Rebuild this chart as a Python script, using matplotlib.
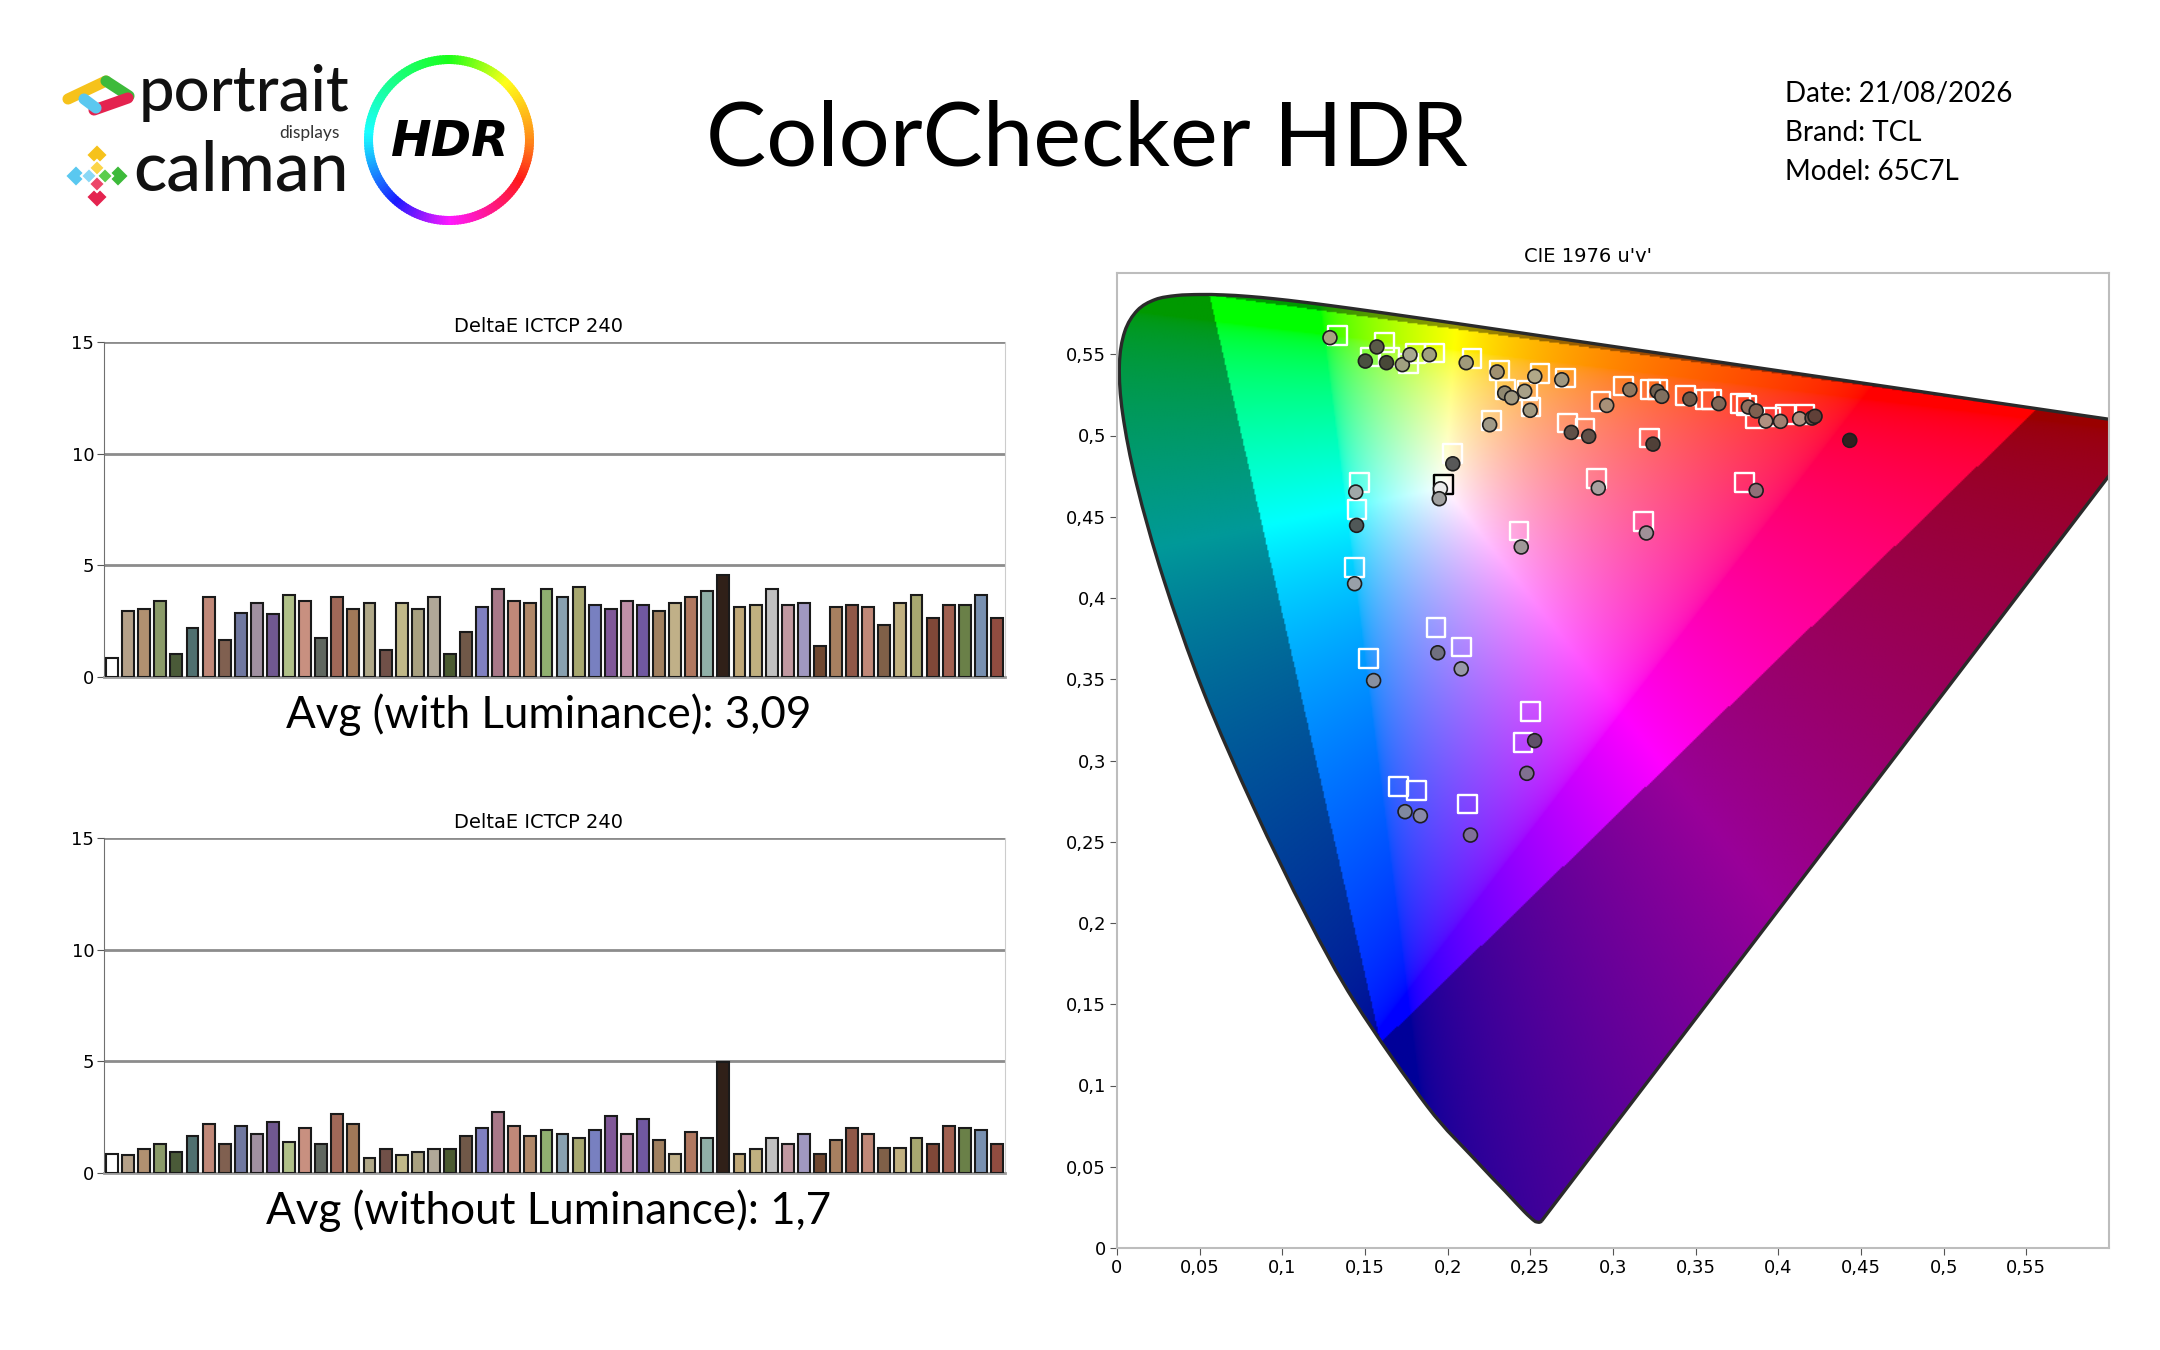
import numpy as np
import matplotlib
matplotlib.use("Agg")
import matplotlib.pyplot as plt
from matplotlib.path import Path
from matplotlib.patches import PathPatch, Wedge, RegularPolygon
import colorsys

# ColorChecker patch colours (same order in both bar charts)
patch_colors = [
    "#ffffff", "#b4a088", "#b09070", "#8a9a68", "#4a5a38", "#507070", "#c08878",
    "#806050", "#7078a0", "#a090a0", "#705890", "#b0c088", "#c89080", "#606860",
    "#a06858", "#a07858", "#b0a888", "#705048", "#c0b888", "#a8a080", "#b0a898",
    "#4a5a30", "#705848", "#8080c0", "#a87888", "#c08878", "#b08868", "#90b070",
    "#88a0b0", "#a8a870", "#7880c0", "#805898", "#c090a8", "#7058a0", "#a08060",
    "#c0b088", "#b07860", "#90b0a8", "#302018", "#c0a878", "#c0b080", "#c0c0c0",
    "#c098a0", "#a098c0", "#704830", "#a88060", "#905848", "#c08878", "#806048",
    "#c0b080", "#a8a870", "#804838", "#a06050", "#6a8048", "#7890b0", "#904c40",
]

de_with_lum = [
    0.86, 2.95, 3.06, 3.41, 1.05, 2.20, 3.59, 1.64, 2.88, 3.32, 2.80, 3.67, 3.41, 1.74,
    3.59, 3.06, 3.32, 1.21, 3.32, 3.06, 3.59, 1.05, 2.00, 3.15, 3.94, 3.41, 3.32, 3.94,
    3.59, 4.05, 3.23, 3.06, 3.41, 3.23, 2.95, 3.32, 3.59, 3.85, 4.55, 3.15, 3.23, 3.94,
    3.23, 3.32, 1.39, 3.15, 3.23, 3.15, 2.35, 3.32, 3.67, 2.62, 3.23, 3.23, 3.67, 2.62,
]

de_without_lum = [
    0.86, 0.79, 1.06, 1.29, 0.95, 1.67, 2.18, 1.29, 2.09, 1.74, 2.27, 1.39, 2.02, 1.29,
    2.62, 2.18, 0.68, 1.06, 0.79, 0.95, 1.06, 1.06, 1.67, 2.02, 2.71, 2.09, 1.67, 1.92,
    1.74, 1.58, 1.92, 2.53, 1.74, 2.44, 1.48, 0.86, 1.83, 1.58, 4.95, 0.86, 1.06, 1.58,
    1.29, 1.74, 0.86, 1.48, 2.02, 1.74, 1.14, 1.14, 1.58, 1.29, 2.09, 2.02, 1.92, 1.29,
]

avg_with = "3,09"
avg_without = "1,7"

# target chromaticities (u', v')
target_u = [
    0.1334, 0.1619, 0.1530, 0.1647, 0.1763, 0.1805, 0.1921, 0.2147, 0.2313, 0.2559,
    0.2713, 0.2352, 0.2485, 0.2504, 0.2266, 0.2928, 0.3063, 0.3226, 0.3268, 0.3440,
    0.3559, 0.3598, 0.3773, 0.3808, 0.3859, 0.3952, 0.4045, 0.4162, 0.2725, 0.2830,
    0.3219, 0.2031, 0.1973, 0.1467, 0.2900, 0.3796, 0.1451, 0.1435, 0.1930, 0.2082,
    0.1520, 0.2502, 0.2455, 0.1704, 0.1813, 0.2118, 0.2431, 0.3183,
]
target_v = [
    0.5616, 0.5571, 0.5483, 0.5483, 0.5442, 0.5504, 0.5508, 0.5473, 0.5401, 0.5380,
    0.5354, 0.5282, 0.5278, 0.5175, 0.5093, 0.5210, 0.5304, 0.5282, 0.5282, 0.5245,
    0.5220, 0.5220, 0.5196, 0.5185, 0.5103, 0.5114, 0.5130, 0.5130, 0.5077, 0.5042,
    0.4984, 0.4888, 0.4699, 0.4709, 0.4734, 0.4709, 0.4544, 0.4187, 0.3817, 0.3698,
    0.3626, 0.3303, 0.3112, 0.2839, 0.2814, 0.2732, 0.4412, 0.4472,
]
white_target = 32

# measured chromaticities (u', v')
meas_u = [
    0.1288, 0.1572, 0.1502, 0.1630, 0.1726, 0.1772, 0.1889, 0.2112, 0.2299, 0.2527,
    0.2690, 0.2345, 0.2387, 0.2466, 0.2499, 0.2254, 0.2962, 0.3102, 0.3268, 0.3295,
    0.3465, 0.3640, 0.3819, 0.3866, 0.3924, 0.4013, 0.4129, 0.4204, 0.4222, 0.2748,
    0.2853, 0.3242, 0.4432, 0.2031, 0.1956, 0.1949, 0.1444, 0.2911, 0.3866, 0.1449,
    0.1437, 0.1940, 0.2082, 0.1552, 0.2526, 0.2479, 0.1742, 0.1835, 0.2138, 0.2445,
    0.3202,
]
meas_v = [
    0.5602, 0.5545, 0.5458, 0.5448, 0.5436, 0.5497, 0.5497, 0.5448, 0.5391, 0.5364,
    0.5343, 0.5261, 0.5233, 0.5272, 0.5155, 0.5066, 0.5185, 0.5282, 0.5272, 0.5241,
    0.5224, 0.5196, 0.5175, 0.5151, 0.5089, 0.5087, 0.5103, 0.5107, 0.5118, 0.5019,
    0.4995, 0.4947, 0.4970, 0.4826, 0.4672, 0.4611, 0.4652, 0.4677, 0.4662, 0.4447,
    0.4088, 0.3663, 0.3564, 0.3492, 0.3122, 0.2921, 0.2685, 0.2660, 0.2541, 0.4314,
    0.4400,
]
meas_colors = [
    "#a8a282", "#5a5a48", "#4a5040", "#484838", "#a0a080", "#a8a890", "#a0a080",
    "#a09a7a", "#a09070", "#b0a888", "#a09880", "#908870", "#a09880", "#a8a088",
    "#a09880", "#a09a88", "#a89078", "#907860", "#706050", "#807060", "#705848",
    "#806858", "#907060", "#806050", "#b09080", "#a08070", "#b09080", "#705048",
    "#604038", "#605048", "#605048", "#504038", "#302020", "#585858", "#ececec",
    "#a0a0a0", "#a0a8a8", "#a8a0a0", "#907078", "#505858", "#98a0a8", "#707080",
    "#9898a8", "#8890a0", "#605068", "#807090", "#8088a0", "#8888a8", "#807098",
    "#a09898", "#a09098",
]

# CIE 1931 spectral locus (x, y), 380-700 nm
locus_x = [0.1741, 0.1738, 0.1733, 0.1726, 0.1714, 0.1689, 0.1644, 0.1566, 0.1440,
           0.1241, 0.1096, 0.0913, 0.0687, 0.0454, 0.0235, 0.0082, 0.0039, 0.0139,
           0.0389, 0.0743, 0.1142, 0.1547, 0.1929, 0.2296, 0.2658, 0.3016, 0.3373,
           0.3731, 0.4087, 0.4441, 0.4788, 0.5125, 0.5448, 0.5752, 0.6029, 0.6270,
           0.6658, 0.6915, 0.7079, 0.7190, 0.7260, 0.7300, 0.7347]
locus_y = [0.0050, 0.0049, 0.0048, 0.0048, 0.0051, 0.0069, 0.0109, 0.0177, 0.0297,
           0.0578, 0.0868, 0.1327, 0.2007, 0.2950, 0.4127, 0.5384, 0.6548, 0.7502,
           0.8120, 0.8338, 0.8262, 0.8059, 0.7816, 0.7543, 0.7243, 0.6923, 0.6589,
           0.6245, 0.5896, 0.5547, 0.5202, 0.4866, 0.4544, 0.4242, 0.3965, 0.3725,
           0.3340, 0.3083, 0.2920, 0.2809, 0.2740, 0.2700, 0.2653]

# Rec.2020 primaries in u'v'
gamut_u = [0.5566, 0.0556, 0.1593]
gamut_v = [0.5165, 0.5868, 0.1260]

cie_ticks = [0, 0.05, 0.1, 0.15, 0.2, 0.25, 0.3, 0.35, 0.4, 0.45, 0.5, 0.55]

W, H = 2160, 1350
fig = plt.figure(figsize=(W / 100, H / 100), dpi=100)

narrow = ["Liberation Sans Narrow", "DejaVu Sans"]
calib = ["Lato", "DejaVu Sans"]


def fig_rect(left, top, right, bottom):
    return [left / W, 1 - bottom / H, (right - left) / W, (bottom - top) / H]


# ---- header overlay -------------------------------------------------------
hdr = fig.add_axes([0, 0, 1, 1])
hdr.set_xlim(0, W)
hdr.set_ylim(H, 0)
hdr.axis("off")

# portrait icon
hdr.plot([68, 106], [99, 81], color="#f6c21b", lw=8, solid_capstyle="round")
hdr.plot([106, 129], [81, 96], color="#3dba3a", lw=8, solid_capstyle="round")
hdr.plot([94, 128], [110, 98], color="#e4234f", lw=8, solid_capstyle="round")
hdr.plot([84, 96], [99, 108], color="#5ac8f0", lw=8, solid_capstyle="round")
hdr.text(139, 111, "portrait", fontsize=45.5, family=calib, va="baseline", ha="left",
         color="#111111", fontweight="medium")
hdr.text(340, 138, "displays", fontsize=12.5, family=calib, va="baseline", ha="right",
         color="#333333")

# calman icon
for dx, dy, rad, col in [(0, -21, 11, "#f6c21b"), (-21, 0, 11, "#5ac8f0"),
                         (21, 0, 11, "#3dba3a"), (0, 21, 11, "#e4234f"),
                         (0, -8, 8, "#fcd549"), (-8, 0, 8, "#8ad8f6"),
                         (8, 0, 8, "#5ccd4d"), (0, 8, 8, "#ec4668")]:
    hdr.add_patch(RegularPolygon((97 + dx, 176 + dy), 4, radius=rad, orientation=0,
                                 facecolor=col, edgecolor="white", linewidth=1.5))
hdr.text(133, 171, "calman", fontsize=50, family=calib, va="center", ha="left",
         color="#111111", fontweight="medium")

# HDR ring (screen angle -> hue)
cx, cy, r_out = 449, 140, 85
ang_pts = [0, 45, 90, 135, 180, 225, 270, 315, 360]
hue_pts = [30, 60, 120, 150, 185, 235, 300, 345, 390]
for a in range(0, 360, 2):
    hue = (np.interp(a, ang_pts, hue_pts) % 360) / 360.0
    col = colorsys.hsv_to_rgb(hue, 0.9, 1.0)
    hdr.add_patch(Wedge((cx, cy), r_out, -a - 2.5, -a + 0.5, width=9, facecolor=col,
                        edgecolor="none"))
hdr.text(cx + 1, cy + 2, "HDR", fontsize=35, fontweight="heavy", fontstyle="italic",
         ha="center", va="center", color="black")

hdr.text(1087, 140, "ColorChecker HDR", fontsize=65, family=calib, ha="center", va="center")

for i, line in enumerate(["Date: 21/08/2026", "Brand: TCL", "Model: 65C7L"]):
    hdr.text(1785, 94 + 39 * i, line, fontsize=20, family=calib, ha="left", va="center")


# ---- bar charts -----------------------------------------------------------
def bar_chart(rect, values, title_y, avg_label, avg_y):
    ax = fig.add_axes(rect)
    ax.bar(np.arange(len(values)), values, width=0.74, color=patch_colors,
           edgecolor="#1a1a1a", linewidth=1.5, zorder=3)
    ax.set_xlim(-0.5, len(values) - 0.5)
    ax.set_ylim(0, 15)
    ax.set_yticks([0, 5, 10, 15])
    ax.set_xticks([])
    ax.yaxis.grid(True, color="#8c8c8c", lw=2)
    ax.set_axisbelow(True)
    ax.spines["top"].set_visible(False)
    ax.spines["left"].set_color("#707070")
    ax.spines["right"].set_color("#cccccc")
    ax.spines["bottom"].set_color("#9a9a9a")
    ax.spines["bottom"].set_linewidth(2)
    ax.tick_params(axis="y", direction="out", length=5, color="#555555",
                   labelsize=13, pad=2)
    for lab in ax.get_yticklabels():
        lab.set_family(narrow)
    hdr.text(539, title_y, "DeltaE ICTCP 240", fontsize=14, family=narrow,
             ha="center", va="center")
    hdr.text(549, avg_y, avg_label, fontsize=31.7, family=calib, ha="center", va="center")
    return ax


bar_chart(fig_rect(104, 342, 1005, 677), de_with_lum, 326,
          "Avg (with Luminance): " + avg_with, 715)
bar_chart(fig_rect(104, 838, 1005, 1173), de_without_lum, 822,
          "Avg (without Luminance): " + avg_without, 1211)

# ---- CIE 1976 u'v' diagram --------------------------------------------------
lx = np.array(locus_x)
ly = np.array(locus_y)
den = -2 * lx + 12 * ly + 3
locus_u = 4 * lx / den
locus_v = 9 * ly / den

# smooth outline through the locus points (Catmull-Rom -> cubic Bezier)
pts = np.column_stack([np.append(locus_u, locus_u[0]), np.append(locus_v, locus_v[0])])
verts = [pts[0]]
codes = [Path.MOVETO]
for i in range(len(pts) - 1):
    p0 = pts[max(i - 1, 0)]
    p1 = pts[i]
    p2 = pts[i + 1]
    p3 = pts[min(i + 2, len(pts) - 1)]
    if i >= len(pts) - 3:
        # last red segment and the purple line stay straight
        verts += [p1 + (p2 - p1) / 3, p1 + 2 * (p2 - p1) / 3, p2]
    else:
        verts += [p1 + (p2 - p0) / 6, p2 - (p3 - p1) / 6, p2]
    codes += [Path.CURVE4] * 3
locus_path = Path(verts, codes)

ax = fig.add_axes(fig_rect(1117, 273, 2109, 1248))
ax.set_xlim(0, 0.6)
ax.set_ylim(0, 0.6)

n = 700
uu, vv = np.meshgrid(np.linspace(0, 0.6, n), np.linspace(0, 0.6, n))
d = 6 * uu - 16 * vv + 12
x = 9 * uu / d
y = np.maximum(4 * vv / d, 1e-4)
XYZ = np.stack([x / y, np.ones_like(x), (1 - x - y) / y], axis=-1)
M = np.array([[3.2406, -1.5372, -0.4986],
              [-0.9689, 1.8758, 0.0415],
              [0.0557, -0.2040, 1.0570]])
rgb = np.clip(XYZ @ M.T, 0, None)
rgb = rgb / np.maximum(rgb.max(axis=-1, keepdims=True), 1e-9)
rgb = rgb ** (1 / 2.0)
tri = Path(np.column_stack([gamut_u, gamut_v]))
inside = tri.contains_points(np.column_stack([uu.ravel(), vv.ravel()])).reshape(uu.shape)
rgb[~inside] *= 0.6

img = ax.imshow(rgb, extent=[0, 0.6, 0, 0.6], origin="lower", interpolation="bilinear",
                aspect="auto", zorder=1)
clip = PathPatch(locus_path, transform=ax.transData, facecolor="none", edgecolor="none")
ax.add_patch(clip)
img.set_clip_path(clip)
ax.add_patch(PathPatch(locus_path, facecolor="none", edgecolor="#2a2a2a", lw=2.4, zorder=2))

edge = ["black" if i == white_target else "white" for i in range(len(target_u))]
ax.scatter(target_u, target_v, marker="s", s=13.5 ** 2, facecolors="none",
           edgecolors=edge, linewidths=1.7, zorder=3)
ax.scatter(meas_u, meas_v, marker="o", s=10 ** 2, c=meas_colors,
           edgecolors="#1e1e1e", linewidths=1.2, zorder=4)


def comma(t):
    s = f"{t:.2f}".rstrip("0").rstrip(".")
    return s.replace(".", ",")


ax.set_xticks(cie_ticks)
ax.set_xticklabels([comma(t) for t in cie_ticks])
ax.set_yticks(cie_ticks)
ax.set_yticklabels([comma(t) for t in cie_ticks])
ax.tick_params(direction="out", length=5, color="#555555", labelsize=13, pad=3)
for lab in ax.get_xticklabels() + ax.get_yticklabels():
    lab.set_family(narrow)
for s in ax.spines.values():
    s.set_color("#bdbdbd")
    s.set_linewidth(1.5)
hdr.text(1588, 256, "CIE 1976 u'v'", fontsize=14, family=narrow, ha="center", va="center")

fig.savefig("out.png", dpi=100)
plt.close(fig)
